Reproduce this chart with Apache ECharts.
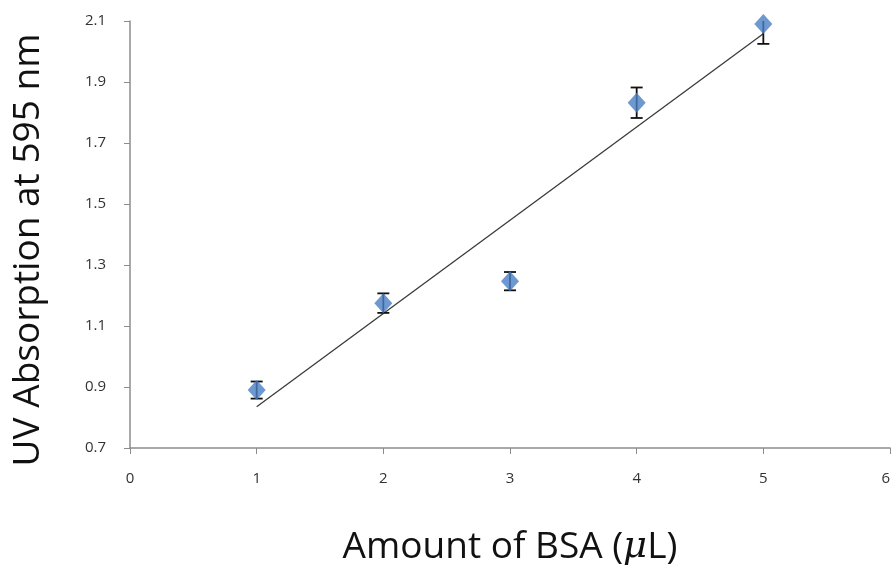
<!DOCTYPE html>
<html>
<head>
<meta charset="utf-8">
<title>UV Absorption vs Amount of BSA</title>
<script src="https://cdn.jsdelivr.net/npm/echarts@6/dist/echarts.min.js"></script>
<style>
  html, body { margin: 0; padding: 0; background: #ffffff; }
  #chart { width: 893px; height: 567px; }
</style>
</head>
<body>
<div id="chart"></div>
<script>
// Measured absorbance at 595 nm for each BSA volume
const bsaAmount = [1, 2, 3, 4, 5];
const absorbance = [0.89, 1.175, 1.247, 1.832, 2.09];
const stdError = [0.028, 0.032, 0.03, 0.05, 0.065];

const xTicks = [0, 1, 2, 3, 4, 5, 6];
const yTicks = [0.7, 0.9, 1.1, 1.3, 1.5, 1.7, 1.9, 2.1];

const xTitle = 'Amount of BSA (';
const xTitleUnit = 'μ';
const xTitleEnd = 'L)';
const yTitle = 'UV Absorption at 595 nm';

// Least-squares linear trendline through the measurements
function linearFit(xs, ys) {
  const n = xs.length;
  const mx = xs.reduce((a, b) => a + b, 0) / n;
  const my = ys.reduce((a, b) => a + b, 0) / n;
  let sxy = 0, sxx = 0;
  for (let i = 0; i < n; i++) {
    sxy += (xs[i] - mx) * (ys[i] - my);
    sxx += (xs[i] - mx) * (xs[i] - mx);
  }
  const slope = sxy / sxx;
  return { slope, intercept: my - slope * mx };
}
const fit = linearFit(bsaAmount, absorbance);
const xFirst = bsaAmount[0], xLast = bsaAmount[bsaAmount.length - 1];
const trendData = [
  [xFirst, fit.intercept + fit.slope * xFirst],
  [xLast, fit.intercept + fit.slope * xLast]
];

const points = bsaAmount.map((x, i) => [x, absorbance[i]]);
const errorData = bsaAmount.map((x, i) => [x, absorbance[i] - stdError[i], absorbance[i] + stdError[i]]);

const axisColor = '#8c8c8c';
const labelFont = '"Open Sans", "Liberation Sans", sans-serif';

const chart = echarts.init(document.getElementById('chart'), null, { renderer: 'canvas' });

chart.setOption({
  animation: false,
  backgroundColor: '#ffffff',
  grid: { left: 130, right: 3, top: 21, bottom: 119, containLabel: false, outerBoundsMode: 'none' },
  xAxis: {
    type: 'value',
    min: xTicks[0],
    max: xTicks[xTicks.length - 1],
    interval: 1,
    axisLine: { show: true, lineStyle: { color: axisColor, width: 1.5 } },
    axisTick: { show: true, length: 6, lineStyle: { color: axisColor } },
    splitLine: { show: false },
    axisLabel: { color: '#333333', fontSize: 15, fontFamily: labelFont, margin: 23, alignMaxLabel: 'right' },
    name: '{t|' + xTitle + '}{mu|' + xTitleUnit + '}{t|' + xTitleEnd + '}',
    nameLocation: 'middle',
    nameGap: 81,
    nameTextStyle: {
      rich: {
        t: { fontSize: 37, color: '#111111', fontFamily: labelFont },
        mu: { fontSize: 37, color: '#111111', fontFamily: '"DejaVu Serif", serif', fontStyle: 'italic' }
      }
    }
  },
  yAxis: {
    type: 'value',
    min: yTicks[0],
    max: yTicks[yTicks.length - 1],
    interval: 0.2,
    axisLine: { show: true, onZero: false, lineStyle: { color: axisColor, width: 1.5 } },
    axisTick: { show: true, length: 6, lineStyle: { color: axisColor } },
    splitLine: { show: false },
    axisLabel: {
      color: '#333333', fontSize: 15, fontFamily: labelFont, margin: 24,
      formatter: v => v.toFixed(1)
    }
  },
  // Vertical axis title, placed beside the tick labels
  graphic: [{
    type: 'text',
    x: 28,
    y: 250,
    rotation: Math.PI / 2,
    style: {
      text: yTitle,
      fontSize: 37,
      fontFamily: labelFont,
      fill: '#111111',
      align: 'center',
      verticalAlign: 'middle'
    }
  }],
  series: [
    {
      name: 'Trendline',
      type: 'line',
      data: trendData,
      symbol: 'none',
      lineStyle: { color: '#3a3a3a', width: 1.3 },
      z: 2
    },
    {
      name: 'Error',
      type: 'custom',
      clip: true,
      data: errorData,
      encode: { x: 0, y: [1, 2] },
      renderItem: function (params, api) {
        const x = api.value(0);
        const lo = api.coord([x, api.value(1)]);
        const hi = api.coord([x, api.value(2)]);
        const half = 6;
        const style = { stroke: '#111111', lineWidth: 1.8 };
        return {
          type: 'group',
          children: [
            { type: 'line', shape: { x1: lo[0], y1: lo[1], x2: hi[0], y2: hi[1] }, style },
            { type: 'line', shape: { x1: lo[0] - half, y1: lo[1], x2: lo[0] + half, y2: lo[1] }, style },
            { type: 'line', shape: { x1: hi[0] - half, y1: hi[1], x2: hi[0] + half, y2: hi[1] }, style }
          ]
        };
      },
      z: 3
    },
    {
      name: 'Absorbance',
      type: 'scatter',
      data: points,
      symbol: 'diamond',
      symbolSize: [18, 20],
      itemStyle: { color: '#4a7ec4' },
      z: 4
    }
  ]
});
</script>
</body>
</html>
